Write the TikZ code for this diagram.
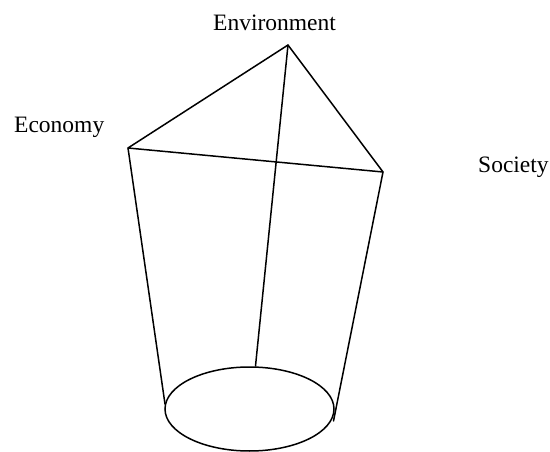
\documentclass[tikz,border=0pt]{standalone}
\usepackage{fontspec}
\setmainfont{Liberation Serif}
\usepackage{tikz}
\usetikzlibrary{shapes.geometric}

\begin{document}
\begin{tikzpicture}[
  x=1pt, y=-1pt,
  edge/.style={line width=1.5pt, line cap=round, line join=round},
  label/.style={anchor=base west, inner sep=0pt,
    font=\fontsize{23.5}{28}\selectfont},
  base/.style={ellipse, draw, line width=1.5pt, inner sep=0pt,
    minimum width=169pt, minimum height=84pt}
]
\useasboundingbox (0,0) rectangle (550,452);
% corners of the triangle
\coordinate (env) at (288,45);
\coordinate (eco) at (128,148);
\coordinate (soc) at (383,172);
% labels
\node[label] (envlabel) at (213,31)  {Environment};
\node[label] (ecolabel) at (14,133)  {Economy};
\node[label] (soclabel) at (478,172) {Society};
% the base
\node[base] (disc) at (249.5,409) {};
\coordinate (discl) at (165,404);
\coordinate (discr) at (333.5,421);
\coordinate (disct) at (255.5,366);
% triangle
\draw[edge] (env) -- (eco) -- (soc) -- cycle;
% edges down to the base
\draw[edge] (eco) -- (discl);
\draw[edge] (soc) -- (discr);
\draw[edge] (env) -- (disct);
\end{tikzpicture}
\end{document}
